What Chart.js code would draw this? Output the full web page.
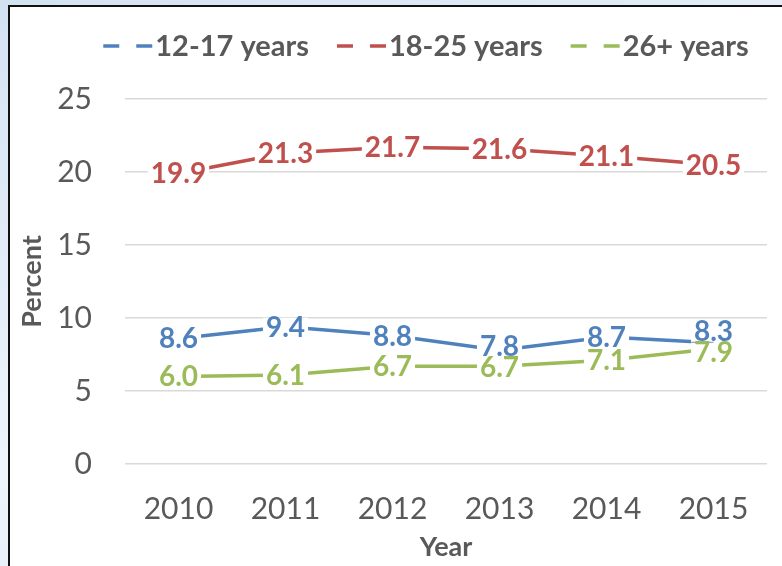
<!DOCTYPE html>
<html>
<head>
<meta charset="utf-8">
<script src="https://cdn.jsdelivr.net/npm/chart.js@4.4.1/dist/chart.umd.min.js"></script>
<style>
    html, body { margin: 0; padding: 0; width: 782px; height: 566px; overflow: hidden;
        background: linear-gradient(160deg, #d3e2f2 0%, #eef4fb 55%, #d9e6f4 100%); }
    #frame { position: absolute; left: 8px; top: 5px; width: 800px; height: 600px;
        border: 2px solid #111; background: #fff; }
    #wrap { position: absolute; left: 0; top: 0; width: 782px; height: 566px; }
</style>
</head>
<body>
<div id="frame"></div>
<div id="wrap"><canvas id="chart"></canvas></div>
<script>
// values
const years = ['2010', '2011', '2012', '2013', '2014', '2015']
const age12to17 = [8.6, 9.4, 8.8, 7.8, 8.7, 8.3]
const age18to25 = [19.9, 21.3, 21.7, 21.6, 21.1, 20.5]
const age26plus = [6.0, 6.1, 6.7, 6.7, 7.1, 7.9]
const seriesNames = ['12-17 years', '18-25 years', '26+ years']
const yTicks = [0, 5, 10, 15, 20, 25]

const colors = ['#4F81BD', '#C0504D', '#9BBB59']
const textGray = '#595959'

// hand-moved labels in the original (dataset index -> point index -> px)
const labelShift = { 0: { 3: -4, 5: -12 }, 2: { 3: 1, 5: 3 } }

const dashLegend = {
    id: 'dashLegend',
    afterDraw(chart) {
        const ctx = chart.ctx
        ctx.save()
        ctx.font = 'bold 29px Lato'
        const dash = 16, gap = 17, textGap = 3, itemGap = 28
        const items = chart.data.datasets.map(ds => ({
            ds, w: dash * 2 + gap + textGap + ctx.measureText(ds.label).width
        }))
        const total = items.reduce((s, it) => s + it.w, 0) + itemGap * (items.length - 1)
        let x = 426 - total / 2
        const y = 46
        items.forEach(it => {
            ctx.strokeStyle = it.ds.borderColor
            ctx.lineWidth = 3.5
            ctx.beginPath()
            ctx.moveTo(x, y); ctx.lineTo(x + dash, y)
            ctx.moveTo(x + dash + gap, y); ctx.lineTo(x + 2 * dash + gap, y)
            ctx.stroke()
            ctx.fillStyle = textGray
            ctx.textBaseline = 'middle'
            ctx.textAlign = 'left'
            ctx.fillText(it.ds.label, x + 2 * dash + gap + textGap, y + 1)
            x += it.w + itemGap
        })
        ctx.restore()
    }
}

const pointLabels = {
    id: 'pointLabels',
    afterDatasetsDraw(chart) {
        const ctx = chart.ctx
        ctx.save()
        ctx.font = 'bold 28px Lato'
        ctx.textAlign = 'center'
        ctx.textBaseline = 'alphabetic'
        chart.data.datasets.forEach((ds, i) => {
            chart.getDatasetMeta(i).data.forEach((pt, j) => {
                const txt = ds.data[j].toFixed(1)
                const w = ctx.measureText(txt).width
                const cy = pt.y + ((labelShift[i] || {})[j] || 0)
                ctx.fillStyle = '#fff'
                ctx.fillRect(pt.x - w / 2 - 3, cy - 9, w + 6, 20)
                ctx.fillStyle = ds.borderColor
                ctx.fillText(txt, pt.x, cy + 10)
            })
        })
        ctx.restore()
    }
}

const makeSet = (label, values, color) => ({
    label: label,
    data: values,
    borderColor: color,
    backgroundColor: color,
    borderWidth: 3.5,
    pointRadius: 0,
    tension: 0,
    fill: false
})

document.fonts.load('bold 28px Lato').finally(() => {
    new Chart(document.getElementById('chart'), {
        type: 'line',
        data: {
            labels: years,
            datasets: [
                makeSet(seriesNames[0], age12to17, colors[0]),
                makeSet(seriesNames[1], age18to25, colors[1]),
                makeSet(seriesNames[2], age26plus, colors[2])
            ]
        },
        options: {
            responsive: true,
            maintainAspectRatio: false,
            animation: false,
            layout: { padding: { left: 10, right: 15, top: 99, bottom: 0 } },
            plugins: {
                legend: { display: false },
                tooltip: { enabled: false }
            },
            scales: {
                x: {
                    offset: true,
                    grid: { display: false, drawTicks: false, offset: true },
                    border: { display: false },
                    ticks: { color: textGray, font: { family: 'Lato', size: 30 }, padding: 27, maxRotation: 0 },
                    title: { display: true, text: 'Year', color: textGray,
                        font: { family: 'Lato', size: 27, weight: 'bold' }, padding: { top: 0, bottom: 3 } },
                    afterFit: s => { s.height = 102 }
                },
                y: {
                    min: 0,
                    max: 25,
                    afterBuildTicks: s => { s.ticks = yTicks.map(v => ({ value: v })) },
                    grid: { color: '#d9d9d9', lineWidth: 1.5, drawTicks: false },
                    border: { display: false },
                    ticks: { color: textGray, font: { family: 'Lato', size: 30 }, padding: 33 },
                    title: { display: true, text: 'Percent', color: textGray,
                        font: { family: 'Lato', size: 27, weight: 'bold' }, padding: { top: 6, bottom: 0 } },
                    afterFit: s => { s.width = 115 }
                }
            }
        },
        plugins: [pointLabels, dashLegend]
    })
})
</script>
</body>
</html>
